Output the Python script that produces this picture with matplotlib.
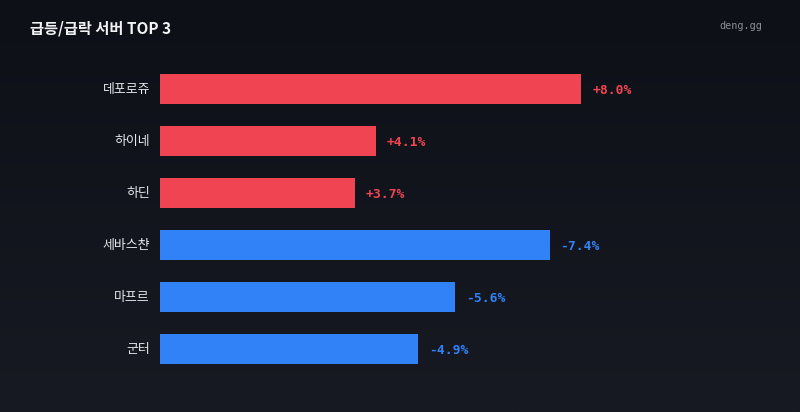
import matplotlib
matplotlib.use("Agg")
import matplotlib.pyplot as plt
import numpy as np
from matplotlib.colors import LinearSegmentedColormap

names = ["데포로쥬", "하이네", "하딘", "세바스챤", "마프르", "군터"]
changes = [8.0, 4.1, 3.7, -7.4, -5.6, -4.9]
title = "급등/급락 서버 TOP 3"
brand = "deng.gg"

RED = "#f04452"
BLUE = "#3182f6"
KR = ["Noto Sans CJK KR", "DejaVu Sans"]

W, H = 800, 412
fig = plt.figure(figsize=(W / 100, H / 100), dpi=100)

# background gradient
bg = fig.add_axes([0, 0, 1, 1])
cmap = LinearSegmentedColormap.from_list("bg", ["#0d1017", "#171a22"])
grad = np.linspace(0, 1, 256).reshape(-1, 1)
bg.imshow(grad, aspect="auto", cmap=cmap, extent=[0, 1, 0, 1], origin="upper")
bg.set_axis_off()

left_px, right_px = 160, 740
top_px, bot_px = 63, 375
ax = fig.add_axes([left_px / W, 1 - bot_px / H, (right_px - left_px) / W, (bot_px - top_px) / H])
ax.set_facecolor("none")
ppu = 52.65
ax.set_xlim(0, (right_px - left_px) / ppu)
ax.set_ylim(len(names) - 0.5, -0.5)

ypos = np.arange(len(names))
vals = np.abs(changes)
colors = [RED if c > 0 else BLUE for c in changes]
ax.barh(ypos, vals, height=30 / 52, color=colors, left=0)

for y, v, c, col, n in zip(ypos, vals, changes, colors, names):
    ax.annotate(f"{c:+.1f}%", xy=(v, y), xytext=(11, -1), textcoords="offset pixels",
                ha="left", va="center", color=col, fontsize=9.4,
                family="DejaVu Sans Mono", fontweight="bold")
    ax.annotate(n, xy=(0, y), xytext=(-10, -1), textcoords="offset pixels",
                ha="right", va="center", color="#e6e8ec", fontsize=9.3,
                family=KR, fontweight="medium")

ax.set_axis_off()

fig.text(30 / W, 1 - 28 / H, title, ha="left", va="center", color="#f2f3f5",
         fontsize=11, fontweight="bold", family=KR)
fig.text(762 / W, 1 - 26 / H, brand, ha="right", va="center", color="#8a8f99",
         fontsize=7.3, family="DejaVu Sans Mono")

fig.savefig("out.png", dpi=100)
